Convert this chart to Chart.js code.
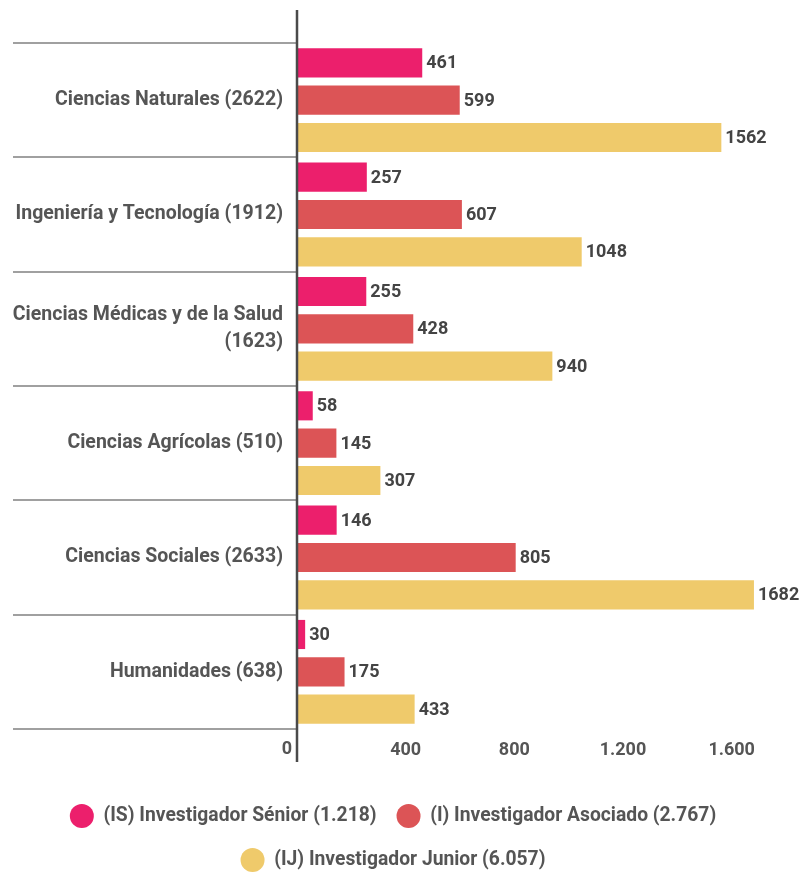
<!DOCTYPE html>
<html lang="es">
<head>
    <meta charset="UTF-8">
    <title>Investigadores por área</title>
    <script src="https://cdn.jsdelivr.net/npm/chart.js"></script>
    <style>
        body { margin: 0; background: #fff; overflow: hidden; }
    </style>
</head>
<body>
    <canvas id="areasChart" width="809" height="882"></canvas>
    <script>
        const categories = [
            'Ciencias Naturales (2622)',
            'Ingeniería y Tecnología (1912)',
            ['Ciencias Médicas y de la Salud', '(1623)'],
            'Ciencias Agrícolas (510)',
            'Ciencias Sociales (2633)',
            'Humanidades (638)'
        ];
        const senior = [461, 257, 255, 58, 146, 30];
        const asociado = [599, 607, 428, 145, 805, 175];
        const junior = [1562, 1048, 940, 307, 1682, 433];
        const seriesNames = [
            '(IS) Investigador Sénior (1.218)',
            '(I) Investigador Asociado (2.767)',
            '(IJ) Investigador Junior (6.057)'
        ];
        const xTicks = [0, 400, 800, 1200, 1600];

        const textColor = '#555555';
        const fontFamily = 'Roboto, "Noto Sans", sans-serif';

        const fmt = v => String(v).replace(/\B(?=(\d{3})+(?!\d))/g, '.');

        // separators, axis line and value labels
        const extras = {
            id: 'extras',
            afterDatasetsDraw(chart) {
                const { ctx, chartArea, scales: { x, y } } = chart;
                const x0 = x.getPixelForValue(0);
                const band = y.getPixelForValue(1) - y.getPixelForValue(0);
                ctx.save();

                ctx.strokeStyle = '#a0a0a0';
                ctx.lineWidth = 2;
                for (let i = 0; i <= categories.length; i++) {
                    const py = Math.round(y.getPixelForValue(i) - band / 2);
                    ctx.beginPath();
                    ctx.moveTo(13, py);
                    ctx.lineTo(x0, py);
                    ctx.stroke();
                }

                ctx.strokeStyle = '#4a4a4a';
                ctx.lineWidth = 2.5;
                ctx.beginPath();
                ctx.moveTo(x0, chartArea.top - 33);
                ctx.lineTo(x0, chartArea.bottom + 33);
                ctx.stroke();

                ctx.fillStyle = '#444444';
                ctx.font = 'bold 18px ' + fontFamily;
                ctx.textBaseline = 'middle';
                ctx.textAlign = 'left';
                chart.data.datasets.forEach((ds, di) => {
                    chart.getDatasetMeta(di).data.forEach((bar, i) => {
                        ctx.fillText(ds.data[i], bar.x + 4, bar.y + 1);
                    });
                });

                // zero tick sits left of the axis line
                ctx.fillStyle = textColor;
                ctx.font = 'bold 18px ' + fontFamily;
                ctx.textAlign = 'right';
                ctx.fillText('0', x0 - 5, chartArea.bottom + 20);
                ctx.restore();
            }
        };

        const ctx = document.getElementById('areasChart').getContext('2d');
        const areasChart = new Chart(ctx, {
            type: 'bar',
            data: {
                labels: categories,
                datasets: [
                    { label: seriesNames[0], data: senior, backgroundColor: '#EC1F6C' },
                    { label: seriesNames[1], data: asociado, backgroundColor: '#DC5456' },
                    { label: seriesNames[2], data: junior, backgroundColor: '#EFCA6B' }
                ]
            },
            options: {
                indexAxis: 'y',
                responsive: false,
                animation: false,
                categoryPercentage: 0.98,
                barPercentage: 0.78,
                borderWidth: 0,
                layout: { padding: { top: 43, right: 23, bottom: 0, left: 0 } },
                scales: {
                    x: {
                        min: 0,
                        max: 1800,
                        afterBuildTicks: axis => {
                            axis.ticks = xTicks.map(v => ({ value: v }));
                        },
                        grid: { display: false, drawTicks: false, tickLength: 0 },
                        border: { display: false },
                        ticks: {
                            padding: 11,
                            color: textColor,
                            font: { family: fontFamily, size: 18, weight: 'bold' },
                            callback: v => (v === 0 ? '' : fmt(v))
                        },
                        afterFit: scale => { scale.height = 55; }
                    },
                    y: {
                        grid: { display: false, drawTicks: false, tickLength: 0 },
                        border: { display: false },
                        ticks: {
                            padding: 14,
                            color: textColor,
                            font: { family: fontFamily, size: 19.5, weight: 'bold', lineHeight: 1.4 }
                        },
                        afterFit: scale => { scale.width = 297; }
                    }
                },
                plugins: {
                    legend: {
                        position: 'bottom',
                        labels: {
                            color: textColor,
                            font: { family: fontFamily, size: 19.3, weight: 'bold' },
                            boxWidth: 24,
                            boxHeight: 24,
                            useBorderRadius: true,
                            borderRadius: 12,
                            padding: 20
                        }
                    },
                    tooltip: { enabled: false }
                }
            },
            plugins: [extras]
        });
    </script>
</body>
</html>
